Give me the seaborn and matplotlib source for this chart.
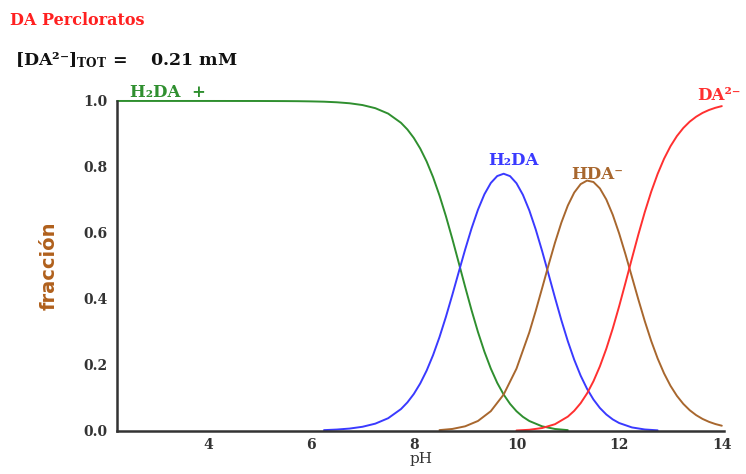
import numpy as np
import pandas as pd
import matplotlib
matplotlib.use("Agg")
import matplotlib.pyplot as plt
import seaborn as sns
from matplotlib.ticker import MultipleLocator, FormatStrFormatter

# fraction curves (pH, fraccion)
ph_h3da = [2.22, 3, 4, 5, 5.5, 5.75, 6, 6.25, 6.5, 6.75, 7, 7.25, 7.5, 7.75, 7.875, 8,
           8.125, 8.25, 8.375, 8.5, 8.625, 8.75, 8.875, 9, 9.125, 9.25, 9.375, 9.5,
           9.625, 9.75, 9.875, 10, 10.125, 10.25, 10.5, 10.75, 11]
fr_h3da = [1.0, 1.0, 1.0, 0.9999, 0.9996, 0.9993, 0.9987, 0.9978, 0.996, 0.993, 0.9876,
           0.9781, 0.9617, 0.9338, 0.9136, 0.8879, 0.8558, 0.8165, 0.7691, 0.7136,
           0.6509, 0.5821, 0.5097, 0.4366, 0.3656, 0.2995, 0.2402, 0.1888, 0.1455,
           0.1101, 0.0818, 0.0596, 0.0426, 0.0299, 0.0137, 0.0057, 0.0022]

ph_h2da = [6.25, 6.5, 6.75, 7, 7.25, 7.5, 7.75, 7.875, 8, 8.125, 8.25, 8.375, 8.5, 8.625,
           8.75, 8.875, 9, 9.125, 9.25, 9.375, 9.5, 9.625, 9.75, 9.875, 10, 10.125,
           10.25, 10.375, 10.5, 10.625, 10.75, 10.875, 11, 11.125, 11.25, 11.375, 11.5,
           11.625, 11.75, 11.875, 12, 12.25, 12.5, 12.75]
fr_h2da = [0.0022, 0.004, 0.007, 0.0124, 0.0219, 0.0383, 0.0661, 0.0863, 0.1118, 0.1437,
           0.1828, 0.2296, 0.2841, 0.3455, 0.4121, 0.4813, 0.5496, 0.6138, 0.6705,
           0.7171, 0.7514, 0.7724, 0.7794, 0.7721, 0.7506, 0.7156, 0.6683, 0.6105,
           0.5449, 0.4748, 0.4038, 0.3352, 0.2719, 0.2156, 0.1674, 0.1274, 0.095,
           0.0694, 0.0497, 0.0348, 0.0238, 0.0104, 0.0042, 0.0016]

ph_hda = [8.5, 8.75, 9, 9.25, 9.5, 9.75, 10, 10.25, 10.375, 10.5, 10.625, 10.75, 10.875,
          11, 11.125, 11.25, 11.375, 11.5, 11.625, 11.75, 11.875, 12, 12.125, 12.25,
          12.375, 12.5, 12.625, 12.75, 12.875, 13, 13.125, 13.25, 13.375, 13.5, 13.625,
          13.75, 13.875, 14]
fr_hda = [0.0023, 0.0058, 0.0138, 0.03, 0.0597, 0.1101, 0.1886, 0.2985, 0.3637, 0.4328,
          0.5028, 0.5703, 0.6314, 0.6829, 0.7223, 0.7479, 0.7587, 0.7543, 0.7349,
          0.7014, 0.6552, 0.5985, 0.5344, 0.4663, 0.3979, 0.3324, 0.2724, 0.2195,
          0.1743, 0.1367, 0.1062, 0.0818, 0.0626, 0.0477, 0.0362, 0.0274, 0.0207, 0.0156]

ph_da = [10, 10.25, 10.5, 10.75, 11, 11.125, 11.25, 11.375, 11.5, 11.625, 11.75, 11.875,
         12, 12.125, 12.25, 12.375, 12.5, 12.625, 12.75, 12.875, 13, 13.125, 13.25,
         13.375, 13.5, 13.625, 13.75, 13.875, 14]
fr_da = [0.0012, 0.0033, 0.0086, 0.0202, 0.0431, 0.0608, 0.0839, 0.1135, 0.1505, 0.1956,
         0.2489, 0.31, 0.3776, 0.4497, 0.5232, 0.5954, 0.6634, 0.725, 0.7789, 0.8248,
         0.8627, 0.8935, 0.918, 0.9373, 0.9522, 0.9638, 0.9726, 0.9793, 0.9844]

GREEN, BLUE, BROWN, RED = "#2f8f2f", "#3a3aff", "#a8672e", "#ff3030"
series = [
    (ph_h3da, fr_h3da, GREEN),
    (ph_h2da, fr_h2da, BLUE),
    (ph_hda, fr_hda, BROWN),
    (ph_da, fr_da, RED),
]

sns.set_style("white")
plt.rcParams["font.family"] = ["DejaVu Serif"]
plt.rcParams["mathtext.fontset"] = "dejavuserif"

fig = plt.figure(figsize=(7.46, 4.74), dpi=100)
ax = fig.add_axes([0.157, 0.091, 0.814, 0.696])

for ph, fr, col in series:
    d = pd.DataFrame({"pH": ph, "fr": fr})
    sns.lineplot(data=d, x="pH", y="fr", color=col, lw=1.4, ax=ax, clip_on=False)

ax.set_xlim(2.22, 14.05)
ax.set_ylim(0, 1.0)
ax.set_xticks([4, 6, 8, 10, 12, 14])
ax.xaxis.set_minor_locator(MultipleLocator(1))
ax.yaxis.set_major_locator(MultipleLocator(0.2))
ax.yaxis.set_minor_locator(MultipleLocator(0.1))
ax.xaxis.set_major_formatter(FormatStrFormatter("%d"))
ax.yaxis.set_major_formatter(FormatStrFormatter("%.1f"))
ax.tick_params(which="both", direction="in", length=5, width=1.2, color="#333333",
               labelsize=10, labelcolor="#333333")
ax.tick_params(axis="x", which="both", pad=5)
ax.tick_params(axis="y", which="both", pad=7)
for lab in ax.get_xticklabels() + ax.get_yticklabels():
    lab.set_fontweight("bold")

sns.despine(ax=ax)
for s in ["left", "bottom"]:
    ax.spines[s].set_linewidth(1.8)
    ax.spines[s].set_color("#333333")

ax.set_xlabel("pH", fontsize=11, color="#333333", labelpad=0)
ax.set_ylabel("fracción", fontsize=14, fontweight="bold", color="#b0601c",
              family="DejaVu Sans", labelpad=18)

# species labels
ax.text(2.47, 1.027, "H₂DA  +", color=GREEN, fontsize=12, fontweight="bold",
        va="center", clip_on=False)
ax.text(9.45, 0.821, "H₂DA", color=BLUE, fontsize=12, fontweight="bold", va="center")
ax.text(11.07, 0.776, "HDA⁻", color=BROWN, fontsize=12, fontweight="bold", va="center")
ax.text(13.53, 1.018, "DA²⁻", color=RED, fontsize=12, fontweight="bold",
        va="center", clip_on=False)

fig.text(0.013, 0.957, "DA Percloratos", color="#ff2020", fontsize=11.5,
         fontweight="bold", va="center")
fig.text(0.02, 0.873, "[DA²⁻]$_{\\mathbf{TOT}}$ =    0.21 mM", color="#111111",
         fontsize=12.5, fontweight="bold", va="center")

fig.savefig("out.png", dpi=100)
